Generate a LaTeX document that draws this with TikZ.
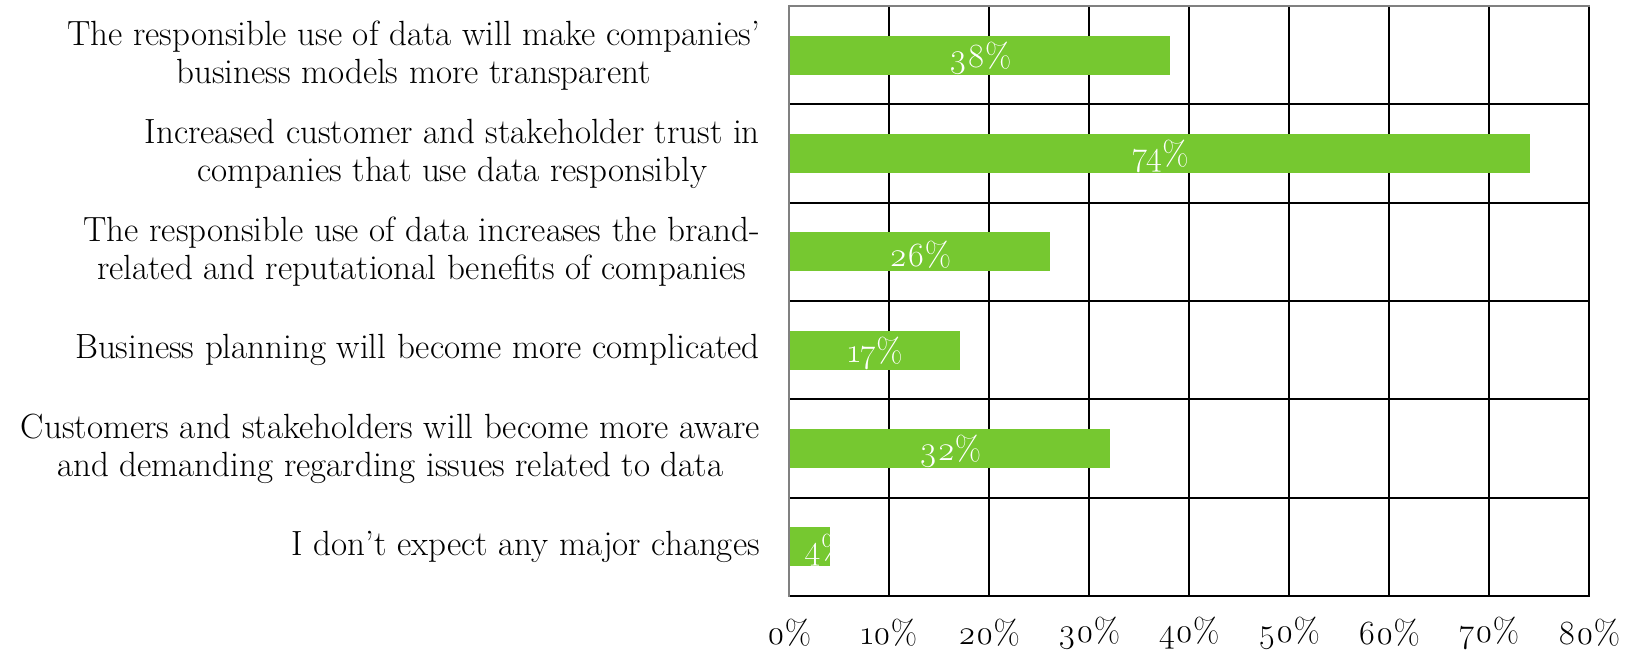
\documentclass[tikz,border=0pt]{standalone}
\usepackage{fontspec}
\setmainfont{Latin Modern Roman}[Numbers=OldStyle]
\definecolor{barGreen}{RGB}{118,200,48}
\definecolor{axisGray}{RGB}{128,128,128}
\begin{document}
\begin{tikzpicture}[x=1pt,y=-1pt,
  gridline/.style={black, line width=2pt},
  axisline/.style={axisGray, line width=2pt},
  barbox/.style={fill=barGreen, draw=none, inner sep=0pt, minimum height=39pt, anchor=west},
  barlabel/.style={text=white, font=\fontsize{34}{38}\selectfont, inner sep=0pt, yshift=-3pt},
  catlabel/.style={anchor=east, align=center, inner sep=0pt, font=\fontsize{35}{38}\selectfont},
  ticklabel/.style={inner sep=0pt, font=\fontsize{34}{38}\selectfont}]
\useasboundingbox (0,0) rectangle (1636,650);
% grid
\foreach \i in {1,...,7} \draw[gridline] (789+100*\i,6) -- (789+100*\i,596);
\draw[gridline] (1589,6) -- (1589,596);
\foreach \j in {1,...,5} \draw[gridline] (789,6+98.33*\j) -- (1589,6+98.33*\j);
\draw[gridline] (789,596) -- (1590,596);
\draw[axisline] (788,6) -- (1590,6);
% bars
\node[barbox, minimum width=380pt] (b1) at (790,55.2) {};
\node[barbox, minimum width=740pt] (b2) at (790,153.5) {};
\node[barbox, minimum width=260pt] (b3) at (790,251.8) {};
\node[barbox, minimum width=170pt] (b4) at (790,350.2) {};
\node[barbox, minimum width=320pt] (b5) at (790,448.5) {};
\node[barbox, minimum width=40pt] (b6) at (790,546.8) {};
\node[barlabel] (l1) at (b1.center) {38\%};
\node[barlabel] (l2) at (b2.center) {74\%};
\node[barlabel] (l3) at (b3.center) {26\%};
\node[barlabel] (l4) at (b4.center) {17\%};
\node[barlabel] (l5) at (b5.center) {32\%};
\begin{scope}
\clip (b6.south west) rectangle (b6.north east);
\node[barlabel, anchor=west] (l6) at (804,546.8) {4\%};
\end{scope}
\draw[axisline] (789,5) -- (789,597);
% category labels
\node[catlabel] (c1) at (760,55.2) {The responsible use of data will make companies’\\business models more transparent};
\node[catlabel] (c2) at (760,153.5) {Increased customer and stakeholder trust in\\companies that use data responsibly};
\node[catlabel] (c3) at (760,251.8) {The responsible use of data increases the brand-\\related and reputational benefits of companies};
\node[catlabel] (c4) at (760,350.2) {Business planning will become more complicated};
\node[catlabel] (c5) at (760,448.5) {Customers and stakeholders will become more aware\\and demanding regarding issues related to data};
\node[catlabel] (c6) at (760,546.8) {I don’t expect any major changes};
% tick labels
\node[ticklabel] (t0) at (789,633) {0\%};
\foreach \i in {1,...,8} \node[ticklabel] (t\i) at (789+100*\i,633) {\i0\%};
\end{tikzpicture}
\end{document}
